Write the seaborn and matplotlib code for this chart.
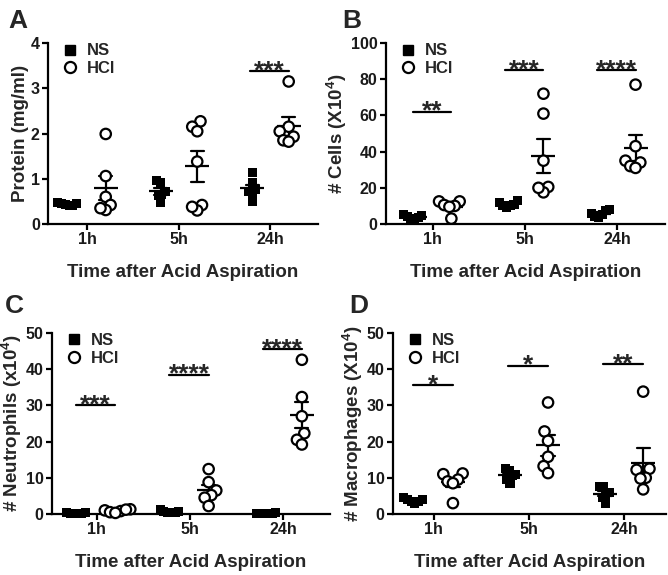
import numpy as np
import pandas as pd
import matplotlib
matplotlib.use("Agg")
import matplotlib.pyplot as plt
from matplotlib.lines import Line2D
import seaborn as sns

times = ["1h", "5h", "24h"]
groups = ["NS", "HCl"]

# values, one list per time point (1h, 5h, 24h)
protein_ns = [[0.48, 0.46, 0.44, 0.42, 0.40, 0.45],
              [0.97, 0.92, 0.72, 0.66, 0.62, 0.47],
              [1.13, 0.91, 0.76, 0.72, 0.70, 0.49]]
protein_hcl = [[1.99, 1.06, 0.60, 0.42, 0.31, 0.35],
               [2.27, 2.15, 2.05, 1.38, 0.42, 0.30, 0.38],
               [3.15, 2.15, 2.05, 1.93, 1.85, 1.82]]

cells_ns = [[3.0, 4.0, 5.0, 3.5, 4.5, 2.5],
            [13.0, 12.0, 11.0, 10.5, 10.0, 9.0],
            [8.0, 7.5, 6.0, 5.0, 4.0, 3.5]]
cells_hcl = [[12.5, 12.5, 10.5, 10.0, 9.5, 3.0],
             [72.0, 61.0, 35.0, 20.5, 17.5, 20.0],
             [77.0, 43.0, 35.0, 34.0, 32.0, 31.0]]

neutro_ns = [[0.2, 0.3, 0.1, 0.2, 0.3, 0.2],
             [0.5, 0.6, 0.8, 1.2, 0.4, 0.5],
             [0.2, 0.1, 0.3, 0.2, 0.15, 0.25]]
neutro_hcl = [[1.3, 1.0, 0.8, 0.5, 0.3, 1.2],
              [12.4, 8.8, 6.5, 5.2, 4.5, 2.2],
              [42.6, 32.3, 27.0, 22.3, 20.5, 19.2]]

macro_ns = [[4.5, 4.0, 3.5, 3.0, 4.0, 3.5],
            [12.5, 12.0, 11.0, 10.5, 9.5, 8.5],
            [7.5, 7.5, 6.0, 5.5, 4.5, 2.8]]
macro_hcl = [[11.2, 11.0, 9.5, 9.0, 8.5, 3.0],
             [30.8, 22.8, 20.2, 15.8, 13.2, 11.3],
             [33.8, 12.5, 12.2, 10.0, 9.8, 6.8]]

# significance labels and bar heights per time point
protein_sig = ["", "", "***"]
protein_sig_y = [0, 0, 3.38]
cells_sig = ["**", "***", "****"]
cells_sig_y = [62, 85, 85]
neutro_sig = ["***", "****", "****"]
neutro_sig_y = [30, 38.5, 45.5]
macro_sig = ["*", "*", "**"]
macro_sig_y = [35.5, 41, 41.3]


def long_table(ns, hcl):
    rows = []
    for g, vals in zip(groups, [ns, hcl]):
        for t, v in zip(times, vals):
            for x in v:
                rows.append({"time": t, "group": g, "value": x})
    return pd.DataFrame(rows)


sns.set_theme(style="ticks")
plt.rcParams["font.family"] = ["Liberation Sans", "DejaVu Sans"]
plt.rcParams["font.weight"] = "bold"
plt.rcParams["axes.labelweight"] = "bold"
plt.rcParams["mathtext.fontset"] = "custom"
plt.rcParams["mathtext.rm"] = "Liberation Sans:bold"
plt.rcParams["mathtext.bf"] = "Liberation Sans:bold"
plt.rcParams["mathtext.default"] = "rm"

fig = plt.figure(figsize=(6.68, 5.75), dpi=100)

panels = [
    ("A", protein_ns, protein_hcl, "Protein (mg/ml)", 4, 1, protein_sig, protein_sig_y,
     [0.072, 0.6104, 0.404, 0.3148], (-0.43, 2.52), (8, 9)),
    ("B", cells_ns, cells_hcl, r"# Cells (X10$^4$)", 100, 20, cells_sig, cells_sig_y,
     [0.5778, 0.6104, 0.4177, 0.3148], (-0.51, 2.52), (342, 9)),
    ("C", neutro_ns, neutro_hcl, r"# Neutrophils (x10$^4$)", 50, 10, neutro_sig, neutro_sig_y,
     [0.0778, 0.1061, 0.416, 0.3148], (-0.48, 2.5), (5, 294)),
    ("D", macro_ns, macro_hcl, r"# Macrophages (X10$^4$)", 50, 10, macro_sig, macro_sig_y,
     [0.5883, 0.1061, 0.4087, 0.3148], (-0.43, 2.44), (349, 294)),
]

swarm_sets = []
for letter, ns, hcl, ylabel, ymax, ystep, sig, sig_y, rect, xlim, lpos in panels:
    ax = fig.add_axes(rect)
    df = long_table(ns, hcl)
    ax.set_xlim(*xlim)
    ax.set_ylim(0, ymax)

    # individual animals
    sns.swarmplot(data=df[df.group == "NS"], x="time", y="value", hue="group",
                  order=times, hue_order=groups, dodge=True, marker="s", size=6.5,
                  palette={"NS": "black", "HCl": "black"}, edgecolor="black",
                  linewidth=0, legend=False, ax=ax)
    sns.swarmplot(data=df[df.group == "HCl"], x="time", y="value", hue="group",
                  order=times, hue_order=groups, dodge=True, marker="o", size=7.5,
                  palette={"NS": "white", "HCl": "white"}, edgecolor="black",
                  linewidth=1.6, legend=False, ax=ax)
    colls = []
    for coll in ax.collections:
        if len(coll.get_offsets()) == 0:
            coll.set_visible(False)
            continue
        coll.set_clip_on(False)
        colls.append(coll)
    swarm_sets.append(colls)

    # mean +/- SEM
    sns.pointplot(data=df, x="time", y="value", hue="group", order=times,
                  hue_order=groups, palette=["black", "black"], dodge=0.4,
                  linestyle="none", markers="_", markersize=17, markeredgewidth=1.6,
                  errorbar="se", capsize=0.14, err_kws={"linewidth": 1.6},
                  legend=False, ax=ax)

    # significance bars
    for i, (s, yv) in enumerate(zip(sig, sig_y)):
        if not s:
            continue
        ax.plot([i - 0.22, i + 0.2], [yv, yv], color="black", lw=1.6)
        ax.annotate(s, (i - 0.01, yv), xytext=(0, -5), textcoords="offset points",
                    ha="center", va="baseline", fontsize=19, fontweight="bold")

    ax.set_xlim(*xlim)
    ax.set_ylim(0, ymax)
    ax.set_yticks(np.arange(0, ymax + ystep / 2, ystep))
    ax.set_xticks(range(len(times)))
    ax.set_xticklabels(times)
    ax.set_xlabel("Time after Acid Aspiration", fontsize=13.5, fontweight="bold", labelpad=12)
    ax.set_ylabel(ylabel, fontsize=13.5, fontweight="bold", labelpad=1)
    ax.tick_params(axis="both", labelsize=11.5, width=1.6, length=4.5, color="black",
                   labelcolor="#1a1a1a", pad=1.5)
    for lab in ax.get_xticklabels() + ax.get_yticklabels():
        lab.set_fontweight("bold")
    sns.despine(ax=ax)
    for sp in ["left", "bottom"]:
        ax.spines[sp].set_linewidth(1.6)
        ax.spines[sp].set_color("black")

    handles = [Line2D([], [], marker="s", color="black", linestyle="none", markersize=7),
               Line2D([], [], marker="o", markerfacecolor="white", markeredgecolor="black",
                      markeredgewidth=1.6, linestyle="none", markersize=8)]
    ax.legend(handles, groups, loc="upper left", bbox_to_anchor=(0.02, 1.035),
              frameon=False, handletextpad=0.4, labelspacing=0.15,
              borderaxespad=0, handlelength=1.2, prop={"weight": "bold", "size": 12})

    fig.text(lpos[0] / 668, 1 - lpos[1] / 575, letter, fontsize=19,
             fontweight="bold", va="top", ha="left")

# let seaborn lay out the swarms once, then squeeze them so the points
# overlap like the original scatter (narrow columns)
fig.canvas.draw()
for colls in swarm_sets:
    for coll in colls:
        offs = np.asarray(coll.get_offsets()).copy()
        if len(offs) == 0:
            continue
        c = np.round(offs[:, 0].mean() * 5) / 5
        offs[:, 0] = c + (offs[:, 0] - c) * 0.4
        coll.set_offsets(offs)
        if "draw" in coll.__dict__:
            del coll.draw

fig.savefig("out.png", dpi=100)
